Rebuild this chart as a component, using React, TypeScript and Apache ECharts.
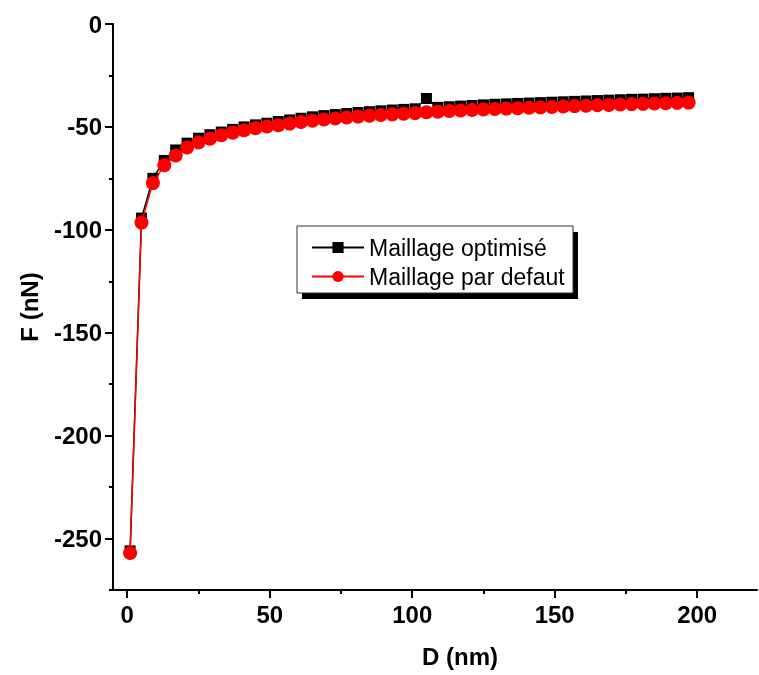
import React, { useEffect, useRef } from "react";
import * as echarts from "echarts";

const distances = [1, 5, 9, 13, 17, 21, 25, 29, 33, 37, 41, 45, 49, 53, 57, 61, 65, 69, 73, 77, 81, 85, 89, 93, 97, 101, 105, 109, 113, 117, 121, 125, 129, 133, 137, 141, 145, 149, 153, 157, 161, 165, 169, 173, 177, 181, 185, 189, 193, 197];

const maillageOptimise = [-256, -94.3, -75.0, -66.3, -61.2, -57.9, -55.5, -53.8, -52.5, -51.2, -50.0, -49.0, -48.2, -47.4, -46.6, -45.8, -45.1, -44.5, -44.0, -43.5, -43.0, -42.6, -42.2, -41.8, -41.5, -41.2, -36.2, -40.5, -40.2, -39.9, -39.6, -39.3, -39.0, -38.8, -38.6, -38.4, -38.2, -38.0, -37.8, -37.6, -37.4, -37.2, -37.0, -36.8, -36.6, -36.5, -36.3, -36.1, -36.0, -35.8];

const maillageDefaut = [-257, -96.5, -77.3, -68.6, -63.9, -60.0, -57.6, -55.7, -54.0, -52.8, -51.6, -50.6, -49.8, -49.2, -48.4, -47.6, -47.0, -46.4, -45.9, -45.4, -45.0, -44.6, -44.2, -43.9, -43.6, -43.3, -42.9, -42.6, -42.3, -42.0, -41.8, -41.5, -41.3, -41.1, -40.9, -40.7, -40.5, -40.3, -40.1, -39.9, -39.7, -39.5, -39.3, -39.1, -38.9, -38.8, -38.6, -38.5, -38.3, -38.2];

const xMajorTicks = [0, 50, 100, 150, 200];
const xMinorTicks = [25, 75, 125, 175];
const yMajorTicks = [0, -50, -100, -150, -200, -250];
const yMinorTicks = [-25, -75, -125, -175, -225, -275];

const FONT = "Liberation Sans, Arial, sans-serif";

export default function App() {
  const ref = useRef<HTMLDivElement>(null);
  useEffect(() => {
    if (!ref.current) return;
    const chart = echarts.init(ref.current, undefined, { renderer: "svg" });
    const black = "#000";
    const baseX = {
      type: "value",
      min: -5,
      max: 221,
      axisLine: { onZero: false, lineStyle: { color: black, width: 2 } },
      splitLine: { show: false },
    };
    const baseY = {
      type: "value",
      min: -275,
      max: 0,
      axisLine: { onZero: false, lineStyle: { color: black, width: 2 } },
      splitLine: { show: false },
    };
    chart.setOption({
      animation: false,
      grid: { left: 113, right: 2, top: 24, bottom: 85, containLabel: false },
      xAxis: [
        {
          ...baseX,
          name: "D (nm)",
          nameLocation: "middle",
          nameGap: 54,
          nameTextStyle: { fontFamily: FONT, fontWeight: "bold", fontSize: 24, color: black, padding: [0, 0, 0, 50] },
          axisTick: { customValues: xMajorTicks, length: 8, lineStyle: { color: black, width: 2 } },
          axisLabel: { customValues: xMajorTicks, fontFamily: FONT, fontWeight: "bold", fontSize: 24, color: black, margin: 12 },
        },
        {
          ...baseX,
          position: "bottom",
          axisLine: { show: false, onZero: false },
          axisTick: { customValues: xMinorTicks, length: 4, lineStyle: { color: black, width: 2 } },
          axisLabel: { show: false },
        },
      ],
      yAxis: [
        {
          ...baseY,
          name: "F (nN)",
          nameLocation: "middle",
          nameGap: 72,
          nameRotate: 90,
          nameTextStyle: { fontFamily: FONT, fontWeight: "bold", fontSize: 24, color: black },
          axisTick: { customValues: yMajorTicks, length: 8, lineStyle: { color: black, width: 2 } },
          axisLabel: { customValues: yMajorTicks, fontFamily: FONT, fontWeight: "bold", fontSize: 24, color: black, margin: 11 },
        },
        {
          ...baseY,
          position: "left",
          axisLine: { show: false, onZero: false },
          axisTick: { customValues: yMinorTicks, length: 4, lineStyle: { color: black, width: 2 } },
          axisLabel: { show: false },
        },
      ],
      graphic: [
        { type: "rect", z: 1, shape: { x: 302, y: 232, width: 276, height: 67 }, style: { fill: "#000" } },
        { type: "rect", z: 2, shape: { x: 297, y: 226, width: 276, height: 67 }, style: { fill: "#fff", stroke: "#333", lineWidth: 1 } },
      ],
      legend: {
        orient: "vertical",
        left: 306,
        top: 231,
        z: 10,
        itemWidth: 52,
        itemHeight: 14,
        itemGap: 6,
        textStyle: { fontFamily: FONT, fontSize: 23, color: black },
        data: ["Maillage optimisé", "Maillage par defaut"],
      },
      series: [
        {
          name: "Maillage optimisé",
          type: "line",
          xAxisIndex: 0,
          yAxisIndex: 0,
          data: distances.map((d, i) => [d, maillageOptimise[i]]),
          symbol: "rect",
          symbolSize: 11,
          itemStyle: { color: "#000" },
          lineStyle: { color: "#000", width: 1.5 },
          z: 2,
        },
        {
          name: "Maillage par defaut",
          type: "line",
          xAxisIndex: 0,
          yAxisIndex: 0,
          data: distances.map((d, i) => [d, maillageDefaut[i]]),
          symbol: "circle",
          symbolSize: 14,
          itemStyle: { color: "#ff0000" },
          lineStyle: { color: "#ff0000", width: 1.5 },
          z: 3,
        },
      ],
    });
    return () => chart.dispose();
  }, []);
  return <div ref={ref} style={{ position: "fixed", left: 0, top: 0, width: 759, height: 675 }} />;
}
